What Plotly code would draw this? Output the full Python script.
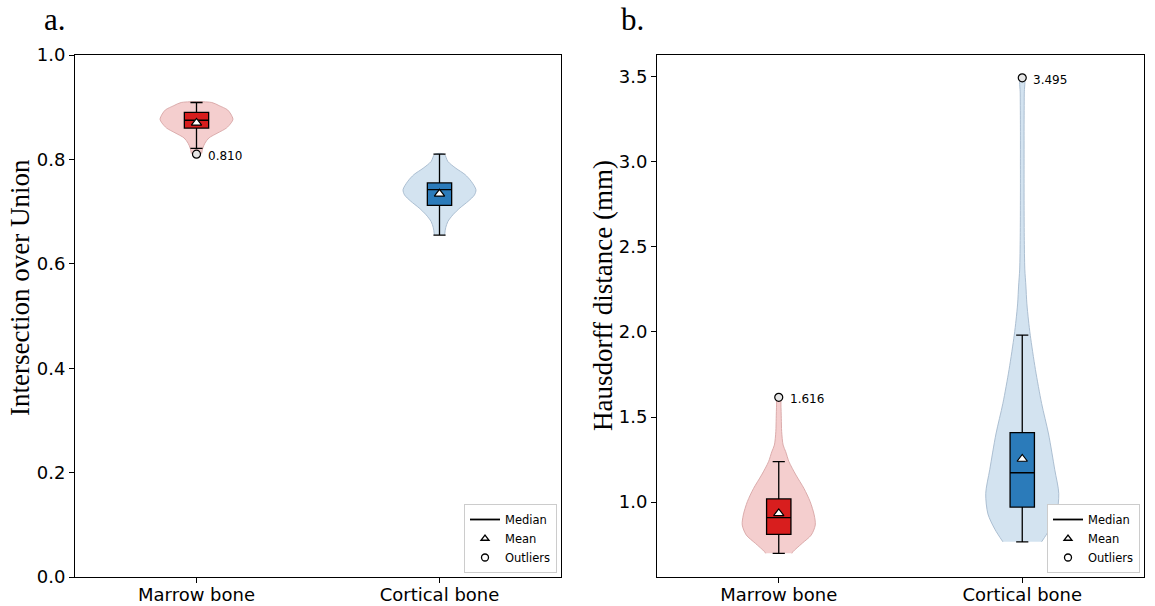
import plotly.graph_objects as go

# ---------------- data ----------------
categories = ["Marrow bone", "Cortical bone"]
positions = [1, 2]

# violin outlines (value level, relative density 0..1)
iou_marrow_levels = [0.811, 0.821, 0.831, 0.841, 0.851, 0.860, 0.870, 0.877, 0.887, 0.895, 0.903, 0.909]
iou_marrow_density = [0.14, 0.17, 0.23, 0.34, 0.59, 0.82, 0.95, 1.00, 0.94, 0.85, 0.62, 0.42]
iou_cortical_levels = [0.655, 0.669, 0.681, 0.694, 0.707, 0.720, 0.732, 0.742, 0.758, 0.771, 0.783, 0.796, 0.810]
iou_cortical_density = [0.14, 0.17, 0.23, 0.37, 0.56, 0.79, 0.96, 1.00, 0.87, 0.70, 0.45, 0.23, 0.13]

hd_marrow_levels = [0.698, 0.708, 0.757, 0.806, 0.865, 0.924, 1.002, 1.080, 1.159, 1.237, 1.296, 1.335, 1.414, 1.492, 1.571, 1.616]
hd_marrow_density = [0.36, 0.39, 0.64, 0.89, 1.00, 0.97, 0.86, 0.69, 0.47, 0.28, 0.19, 0.12, 0.08, 0.07, 0.06, 0.05]
hd_cortical_levels = [0.766, 0.84, 0.93, 1.05, 1.19, 1.40, 1.58, 1.78, 1.98, 2.07, 2.17, 2.27, 2.37, 2.56, 2.80, 3.00, 3.20, 3.40, 3.495]
hd_cortical_density = [0.53, 0.75, 0.94, 1.00, 0.89, 0.72, 0.53, 0.36, 0.22, 0.17, 0.125, 0.10, 0.07, 0.055, 0.05, 0.05, 0.05, 0.055, 0.055]

# box statistics [marrow, cortical]
iou_q1 = [0.860, 0.712]
iou_median = [0.875, 0.742]
iou_q3 = [0.890, 0.755]
iou_lower = [0.821, 0.655]
iou_upper = [0.909, 0.810]
iou_mean = [0.870, 0.734]
iou_outliers = [0.810, None]

hd_q1 = [0.810, 0.970]
hd_median = [0.908, 1.172]
hd_q3 = [1.018, 1.408]
hd_lower = [0.698, 0.766]
hd_upper = [1.237, 1.982]
hd_mean = [0.933, 1.253]
hd_outliers = [1.616, 3.495]

# ---------------- styles ----------------
VIOLIN_HALF = 0.15
BOX_W = 0.1
box_colors = ["#d81e1e", "#2b7bba"]
violin_fill = ["rgba(240,190,190,0.75)", "rgba(200,220,236,0.8)"]
violin_edge = ["rgba(215,165,165,0.9)", "rgba(165,185,205,0.9)"]
SANS = "DejaVu Sans"
SERIF = "Liberation Serif"

fig = go.Figure()


def add_panel(xa, ya, xo, yo, legend, levels, dens, q1, med, q3, lo, hi, mean, outl):
    # violins on base axes
    for i, pos in enumerate(positions):
        lv, dn = levels[i], dens[i]
        xs = [pos - VIOLIN_HALF * d for d in dn] + [pos + VIOLIN_HALF * d for d in reversed(dn)]
        ys = list(lv) + list(reversed(lv))
        fig.add_trace(go.Scatter(
            x=xs, y=ys, xaxis=xa, yaxis=ya, mode="lines", fill="toself",
            fillcolor=violin_fill[i], line=dict(color=violin_edge[i], width=1, shape="spline", smoothing=0.8),
            showlegend=False, hoverinfo="skip"))
    # boxes, means, outliers on overlay axes (drawn above violins)
    for i, pos in enumerate(positions):
        fig.add_trace(go.Box(
            x=[pos], q1=[q1[i]], median=[med[i]], q3=[q3[i]],
            lowerfence=[lo[i]], upperfence=[hi[i]], width=BOX_W, whiskerwidth=0.5,
            fillcolor=box_colors[i], line=dict(color="black", width=1.3),
            boxpoints=False, xaxis=xo, yaxis=yo, showlegend=False, hoverinfo="skip"))
    fig.add_trace(go.Scatter(
        x=positions, y=mean, xaxis=xo, yaxis=yo, mode="markers",
        marker=dict(symbol="triangle-up", size=9, color="white", line=dict(color="black", width=1.2)),
        showlegend=False, hoverinfo="skip"))
    ox = [p for p, o in zip(positions, outl) if o is not None]
    oy = [o for o in outl if o is not None]
    fig.add_trace(go.Scatter(
        x=ox, y=oy, xaxis=xo, yaxis=yo, mode="markers",
        marker=dict(symbol="circle", size=8, color="#e6e6e6", line=dict(color="black", width=1.2)),
        showlegend=False, hoverinfo="skip"))
    for x, y in zip(ox, oy):
        fig.add_annotation(x=x, y=y, xref=xa, yref=ya, text=f"{y:.3f}", showarrow=False,
                           xanchor="left", yanchor="middle", xshift=9, yshift=-2,
                           font=dict(family=SANS, size=12, color="black"))
    # legend entries
    fig.add_trace(go.Scatter(x=[None], y=[None], xaxis=xa, yaxis=ya, mode="lines", name="Median",
                             line=dict(color="black", width=1.8), legend=legend))
    fig.add_trace(go.Scatter(x=[None], y=[None], xaxis=xa, yaxis=ya, mode="markers", name="Mean",
                             marker=dict(symbol="triangle-up", size=7, color="white",
                                         line=dict(color="black", width=1.3)), legend=legend))
    fig.add_trace(go.Scatter(x=[None], y=[None], xaxis=xa, yaxis=ya, mode="markers", name="Outliers",
                             marker=dict(symbol="circle", size=7, color="white",
                                         line=dict(color="black", width=1.3)), legend=legend))


add_panel("x", "y", "x3", "y3", "legend", [iou_marrow_levels, iou_cortical_levels],
          [iou_marrow_density, iou_cortical_density],
          iou_q1, iou_median, iou_q3, iou_lower, iou_upper, iou_mean, iou_outliers)
add_panel("x2", "y2", "x4", "y4", "legend2", [hd_marrow_levels, hd_cortical_levels],
          [hd_marrow_density, hd_cortical_density],
          hd_q1, hd_median, hd_q3, hd_lower, hd_upper, hd_mean, hd_outliers)

W, H = 1155, 606
ydom = [1 - 577 / H, 1 - 55 / H]
xdom1 = [75 / W, 561 / W]
xdom2 = [657 / W, 1144 / W]
yr1 = [0, 1.0]
yr2 = [0.559, 3.629]
xr = [0.5, 2.5]
axis_common = dict(showline=True, linecolor="black", linewidth=1, mirror=True, ticks="outside",
                   ticklen=5, tickwidth=1, tickcolor="black", showgrid=False, zeroline=False,
                   automargin=False, tickfont=dict(family=SANS, size=18, color="black"))
hidden = dict(visible=False, showgrid=False, zeroline=False, automargin=False)

fig.update_layout(
    width=W, height=H, margin=dict(l=0, r=0, t=0, b=0),
    paper_bgcolor="white", plot_bgcolor="white",
    xaxis=dict(domain=xdom1, range=xr, tickvals=positions, ticktext=categories, anchor="y",
               ticklabelstandoff=-4, **axis_common),
    yaxis=dict(domain=ydom, range=yr1, tickvals=[0, 0.2, 0.4, 0.6, 0.8, 1.0], tickformat=".1f",
               anchor="x", **axis_common),
    xaxis2=dict(domain=xdom2, range=xr, tickvals=positions, ticktext=categories, anchor="y2",
                ticklabelstandoff=-4, **axis_common),
    yaxis2=dict(domain=ydom, range=yr2, tickvals=[1.0, 1.5, 2.0, 2.5, 3.0, 3.5], tickformat=".1f",
                anchor="x2", **axis_common),
    xaxis3=dict(overlaying="x", range=xr, anchor="y3", **hidden),
    yaxis3=dict(overlaying="y", range=yr1, anchor="x3", **hidden),
    xaxis4=dict(overlaying="x2", range=xr, anchor="y4", **hidden),
    yaxis4=dict(overlaying="y2", range=yr2, anchor="x4", **hidden),
    legend=dict(x=557 / W, y=1 - 573 / H, xanchor="right", yanchor="bottom", bgcolor="white",
                bordercolor="#cccccc", borderwidth=1, font=dict(family=SANS, size=11.5, color="black"),
                itemwidth=30, tracegroupgap=0),
    legend2=dict(x=1140 / W, y=1 - 573 / H, xanchor="right", yanchor="bottom", bgcolor="white",
                 bordercolor="#cccccc", borderwidth=1, font=dict(family=SANS, size=11.5, color="black"),
                 itemwidth=30, tracegroupgap=0),
)

fig.add_annotation(x=55 / W, y=1 - 20 / H, xref="paper", yref="paper", text="a.", showarrow=False,
                   xanchor="center", yanchor="middle", font=dict(family=SERIF, size=31, color="black"))
fig.add_annotation(x=632 / W, y=1 - 20 / H, xref="paper", yref="paper", text="b.", showarrow=False,
                   xanchor="center", yanchor="middle", font=dict(family=SERIF, size=31, color="black"))
fig.add_annotation(x=20 / W, y=1 - 288 / H, xref="paper", yref="paper", text="Intersection over Union",
                   textangle=-90, showarrow=False, xanchor="center", yanchor="middle",
                   font=dict(family=SERIF, size=27, color="black"))
fig.add_annotation(x=603 / W, y=1 - 296 / H, xref="paper", yref="paper", text="Hausdorff distance (mm)",
                   textangle=-90, showarrow=False, xanchor="center", yanchor="middle",
                   font=dict(family=SERIF, size=27, color="black"))

fig.write_html("out.html", config={"displayModeBar": False},
               post_script="document.body.style.margin='0';document.body.style.padding='0';")
